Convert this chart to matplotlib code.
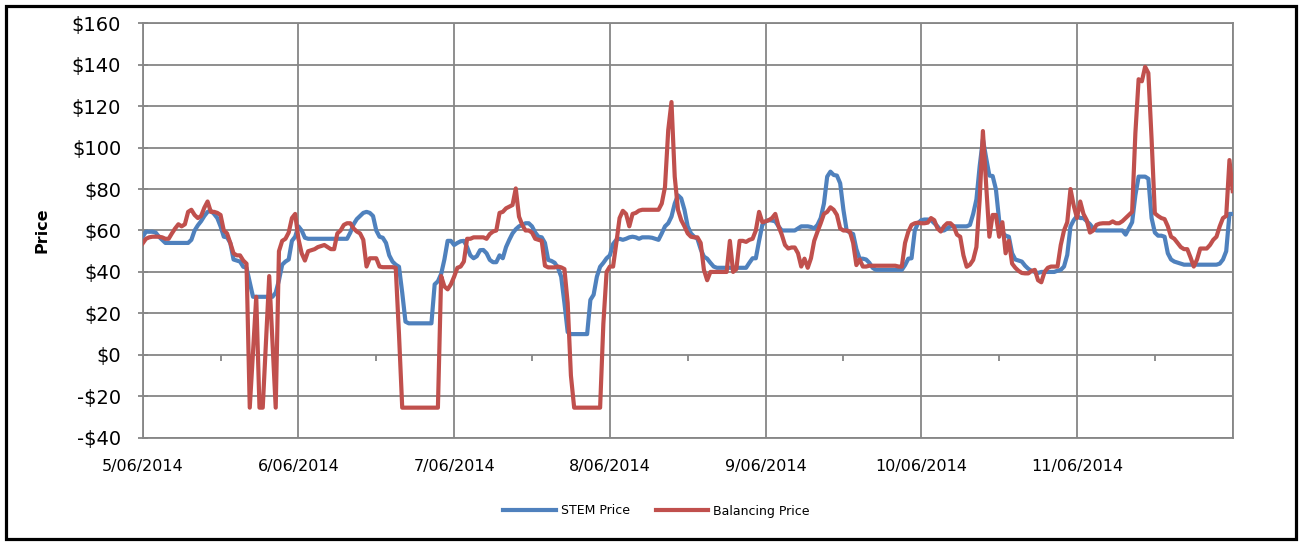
import numpy as np
import matplotlib
matplotlib.use('Agg')
import matplotlib.pyplot as plt
from matplotlib.patches import Rectangle

# ---------------- data (half-hourly, 48 per day) ----------------
DATES = ['5/06/2014', '6/06/2014', '7/06/2014', '8/06/2014',
         '9/06/2014', '10/06/2014', '11/06/2014']
Y_TICKS = [-40, -20, 0, 20, 40, 60, 80, 100, 120, 140, 160]

STEM_D1 = [57, 59.4, 59.4, 59.4, 59, 57, 55.5, 54, 54, 54, 54, 54, 54, 54, 54, 55.5,
           60, 62.5, 64.5, 67, 69, 69.5, 68, 66, 62, 57, 56.7, 54, 46, 45.5, 45, 42.5,
           42, 35, 28, 28, 28, 28, 28, 28, 28, 30, 36, 43.5, 45, 46, 55, 57]
STEM_D2 = [62, 60, 56.5, 56, 56, 56, 56, 56, 56, 56, 56, 56, 56, 56, 56, 56,
           59, 63, 65.5, 67, 68.5, 69, 68.5, 67, 60, 57, 56.5, 54, 48, 45, 43.5, 42.5,
           30, 16, 15.2, 15.2, 15.2, 15.2, 15.2, 15.2, 15.2, 15.2, 34, 35.5, 39, 46, 55, 55]
STEM_D3 = [53, 54, 54.8, 55, 52, 48, 46.6, 47.6, 50.5, 50.6, 49, 45.8, 44.7, 44.7, 48, 46.6,
           52, 55.5, 58.6, 60.6, 62, 62.7, 63.5, 63.5, 62, 59, 57, 56.7, 54, 45.8, 45.3, 44.4,
           42, 37.7, 25, 11, 10, 10, 10, 10, 10, 10, 26.5, 29, 37.7, 42.5, 44.4, 46.6]
STEM_D4 = [48, 53.5, 55.5, 56, 55.5, 56, 56.7, 57, 56.7, 56, 56.7, 56.7, 56.7, 56.5, 56, 55.5,
           58.6, 62, 63.5, 66.7, 73, 77, 75.5, 70, 62, 58.6, 57, 56, 51, 47.4, 46.4, 44.4,
           42.6, 42, 42, 42, 42, 42, 42, 42, 42, 42, 42, 44.4, 46.6, 46.6, 55, 62.7]
STEM_D5 = [64.4, 65, 64.8, 64.4, 62, 60, 60, 60, 60, 60, 61, 62, 62, 62, 61.7, 61,
           62.7, 66, 73, 86, 88.4, 86.8, 86.5, 82.8, 70, 60, 59, 58.3, 51, 46.4, 46.4, 46,
           44.4, 42, 41, 41, 41, 41, 41, 41, 41, 41, 41, 43.3, 46.4, 46.6, 60, 63.5]
STEM_D6 = [65, 65.3, 65.3, 65, 63.5, 62, 60, 60, 61, 62, 62, 62, 62, 62, 62, 62.7,
           68, 75, 91, 104, 95, 86.5, 86.3, 80, 65, 59, 57.5, 57, 49, 46, 45.5, 45,
           43, 41.5, 40.5, 40, 39.5, 40, 40, 40, 40, 40, 40.6, 41, 42.6, 48.2, 62, 65]
STEM_D7 = [67, 66, 66, 64.5, 63, 61, 60, 60, 60, 60, 60, 60, 60, 60, 60, 58,
           61, 64, 77, 86, 86, 86, 85, 66, 59, 57.5, 57.5, 57, 49, 46, 45, 44.5,
           44, 43.5, 43.5, 43.5, 43.5, 43.5, 43.5, 43.5, 43.5, 43.5, 43.5, 43.5, 44, 46, 50, 68]
STEM_END = [68]

BAL_D1 = [53.8, 56, 56.7, 57, 57, 57, 56.7, 56, 56, 58.6, 61, 63, 62, 63, 69, 70,
          67.5, 66, 67, 71, 74, 69, 69, 68.5, 67.5, 60, 58.6, 54, 49, 48, 48, 45.5,
          44, -25.5, 1.5, 28, -25.5, -25.5, 6.5, 38, 6.5, -25.5, 50, 55, 56, 59, 66, 68]
BAL_D2 = [56, 49, 45.5, 50, 50.5, 51, 52, 52.5, 53, 52, 51, 51, 58.6, 60, 62.7, 63.5,
          63.5, 61, 59.5, 58.6, 55.5, 42.6, 46.6, 46.6, 46.6, 42.6, 42.3, 42.3, 42.3, 42.3, 42, 10,
          -25.5, -25.5, -25.5, -25.5, -25.5, -25.5, -25.5, -25.5, -25.5, -25.5, -25.5, -25.5,
          38, 33, 31.6, 34]
BAL_D3 = [37.7, 42, 42.6, 45, 56, 56, 56.7, 56.7, 56.7, 56.7, 56, 58.3, 59.5, 60, 68.5, 69,
          70.7, 71.5, 72.3, 80.3, 66.7, 62.7, 60, 60, 59, 56, 55.5, 55, 43, 42.2, 42.2, 42.2,
          42.6, 42.2, 41.4, 25, -10, -25.5, -25.5, -25.5, -25.5, -25.5, -25.5, -25.5, -25.5,
          -25.5, 15, 40]
BAL_D4 = [42.6, 42.6, 54, 66, 69.5, 68, 62, 68, 68.5, 69.6, 70, 70, 70, 70, 70, 70,
          73, 81, 108.5, 122, 86, 70, 65, 62, 58.6, 57, 56.7, 56.7, 54, 41, 36, 40,
          40, 40, 40, 40, 40, 55, 40, 41.4, 55, 55, 54.5, 55.5, 56, 60, 69, 64]
BAL_D5 = [64.4, 65, 66, 68, 62, 58, 53, 51.3, 51.8, 51.8, 49, 42.6, 46.4, 42, 46.6, 55,
          59.4, 63.5, 68, 69, 71.2, 70, 67.5, 61, 60, 60, 59.4, 54, 43.3, 46, 42.6, 42.6,
          43, 43, 43, 43, 43, 43, 43, 43, 43, 42.6, 42.6, 54, 59.4, 62.7, 63.5, 63.8]
BAL_D6 = [63.5, 63.5, 63.8, 66, 65, 61, 59.5, 62, 63.5, 63.5, 62, 58, 57, 48, 42.5, 43.5,
          45.8, 52, 75, 108, 82, 57, 67.5, 67.5, 57, 64, 49, 55, 44, 42, 40.5, 39.5,
          39.3, 39.3, 40.5, 41, 36, 35, 40, 42, 42.6, 42.6, 42.6, 53, 60, 64, 80, 72]
BAL_D7 = [66, 74, 68, 65, 59, 60, 62.7, 63.3, 63.5, 63.5, 63.5, 64.4, 63.5, 63.5, 64.5, 66,
          67.5, 69, 107, 133, 132, 139, 136, 104, 68.3, 67, 66, 65.5, 62, 57, 56, 54,
          52, 51, 51, 47, 42.6, 46, 51.3, 51.3, 51.3, 53, 55.5, 57, 62, 66, 67, 94]
BAL_END = [79]

stem = np.array(STEM_D1 + STEM_D2 + STEM_D3 + STEM_D4 + STEM_D5 + STEM_D6 + STEM_D7 + STEM_END)
bal = np.array(BAL_D1 + BAL_D2 + BAL_D3 + BAL_D4 + BAL_D5 + BAL_D6 + BAL_D7 + BAL_END)
t_stem = np.arange(len(stem)) / 48.0
t_bal = np.arange(len(bal)) / 48.0

# ---------------- figure ----------------
W, H = 1301, 543
fig = plt.figure(figsize=(W / 100, H / 100), dpi=100)
fig.patch.set_facecolor('white')

L, R, T, B = 142.7, 1232.7, 23.3, 437.7
ax = fig.add_axes([L / W, 1 - B / H, (R - L) / W, (B - T) / H])

GRID = '#868686'
BLUE = '#4F81BD'
RED = '#C0504D'

l1, = ax.plot(t_stem, stem, color=BLUE, lw=3.0, solid_joinstyle='round', label='STEM Price', zorder=3)
l2, = ax.plot(t_bal, bal, color=RED, lw=3.0, solid_joinstyle='round', label='Balancing Price', zorder=4)

n_days = len(DATES) + 1
ax.set_xlim(0, len(DATES))
ax.set_ylim(Y_TICKS[0], Y_TICKS[-1])
ax.set_yticks(Y_TICKS)
ax.set_yticklabels([('$%d' % v) if v >= 0 else ('-$%d' % -v) for v in Y_TICKS])
ax.set_xticks(np.arange(n_days))
ax.set_xticklabels(DATES + [''])

ax.grid(True, color=GRID, lw=1.3, zorder=0)
ax.set_axisbelow(True)
for s in ax.spines.values():
    s.set_color(GRID)
    s.set_linewidth(1.3)

ax.tick_params(axis='y', direction='inout', length=7, width=1.3, color=GRID,
               labelsize=14, pad=12, labelcolor='black')
ax.tick_params(axis='x', length=0, labelsize=11.5, pad=15, labelcolor='black')

# small tick marks on the horizontal axis at y = 0 (midday)
zero_frac = (0 - Y_TICKS[0]) / (Y_TICKS[-1] - Y_TICKS[0])
sec = ax.secondary_xaxis(zero_frac)
sec.set_xticks(np.arange(len(DATES)) + 0.5)
sec.set_xticklabels([])
sec.tick_params(direction='out', length=4, width=1.3, color=GRID)
sec.spines['bottom'].set_visible(False)
sec.spines['top'].set_visible(False)

ax.set_ylabel('Price', fontsize=11.5, fontweight='bold')
ax.yaxis.set_label_coords(-(L - 50) / (R - L), 0.5)

fig.legend(handles=[l1, l2], loc='center', bbox_to_anchor=(656.5 / W, 1 - 511 / H),
           ncol=2, frameon=False, fontsize=9, handlelength=4.2,
           columnspacing=2.1, handletextpad=0.4)

# outer black border
fig.add_artist(Rectangle((5.5 / W, 4 / H), (1296 - 5.5) / W, (537 - 4) / H,
                         transform=fig.transFigure, fill=False, edgecolor='black', lw=2.3))

fig.savefig('out.png', dpi=100)
